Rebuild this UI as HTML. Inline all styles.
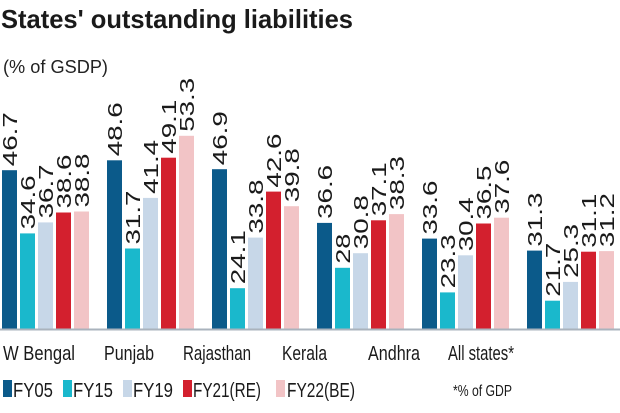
<!DOCTYPE html>
<html><head><meta charset="utf-8"><style>
body{margin:0;background:#fff;}
svg{display:block;font-family:"Liberation Sans",sans-serif;}
</style></head><body>
<svg id="s" width="620" height="413" viewBox="0 0 620 413">
<text x="1" y="28" font-size="26" font-weight="bold" fill="#1a1a1a" textLength="352" lengthAdjust="spacingAndGlyphs">States' outstanding liabilities</text>
<text x="3" y="73" font-size="18" fill="#222" textLength="105" lengthAdjust="spacingAndGlyphs">(% of GSDP)</text>
<g id="bars"></g>
<line x1="0" y1="329.5" x2="620" y2="329.5" stroke="#aab3bd" stroke-width="2"/>
<g font-size="20" fill="#1a1a1a">
<text x="3" y="360" textLength="72" lengthAdjust="spacingAndGlyphs">W Bengal</text>
<text x="104" y="360" textLength="50" lengthAdjust="spacingAndGlyphs">Punjab</text>
<text x="183" y="360" textLength="68" lengthAdjust="spacingAndGlyphs">Rajasthan</text>
<text x="282" y="360" textLength="45" lengthAdjust="spacingAndGlyphs">Kerala</text>
<text x="368" y="360" textLength="52" lengthAdjust="spacingAndGlyphs">Andhra</text>
<text x="448" y="360" textLength="66" lengthAdjust="spacingAndGlyphs">All states*</text>
</g>
<g font-size="20" fill="#1a1a1a">
<rect x="3" y="380" width="9" height="17" fill="#0b5a8a"/><text x="13" y="397" textLength="40" lengthAdjust="spacingAndGlyphs">FY05</text>
<rect x="63" y="380" width="9" height="17" fill="#1ab8cc"/><text x="73" y="397" textLength="40" lengthAdjust="spacingAndGlyphs">FY15</text>
<rect x="123" y="380" width="9" height="17" fill="#c7d7e8"/><text x="133" y="397" textLength="40" lengthAdjust="spacingAndGlyphs">FY19</text>
<rect x="183" y="380" width="9" height="17" fill="#d3202e"/><text x="193" y="397" textLength="68" lengthAdjust="spacingAndGlyphs">FY21(RE)</text>
<rect x="276" y="380" width="9" height="17" fill="#f2c4c6"/><text x="287" y="397" textLength="68" lengthAdjust="spacingAndGlyphs">FY22(BE)</text>
<text x="453" y="396" font-size="16" textLength="59" lengthAdjust="spacingAndGlyphs">*% of GDP</text>
</g>
</svg>
<script>
var d=[[46.7,34.6,36.7,38.6,38.8],[48.6,31.7,41.4,49.1,53.3],[46.9,24.1,33.8,42.6,39.8],[36.6,28,30.8,37.1,38.3],[33.6,23.3,30.4,36.5,37.6],[31.3,21.7,25.3,31.1,31.2]];
var c=["#0b5a8a","#1ab8cc","#c7d7e8","#d3202e","#f2c4c6"];
var g=document.getElementById("bars"),h="";
d.forEach(function(r,i){r.forEach(function(v,j){
var x=2+i*105+j*18,y=414-5.22*v;
var s=String(v),L=s.length==2?30:54;
h+='<rect x="'+x+'" y="'+y.toFixed(1)+'" width="15" height="'+(329-y).toFixed(1)+'" fill="'+c[j]+'"/>';
h+='<text transform="translate('+(x+15)+','+(y-4).toFixed(1)+') rotate(-90)" font-size="20" fill="#1a1a1a" textLength="'+L+'" lengthAdjust="spacingAndGlyphs">'+s+'</text>';
});});
g.innerHTML=h;
</script>
</body></html>
